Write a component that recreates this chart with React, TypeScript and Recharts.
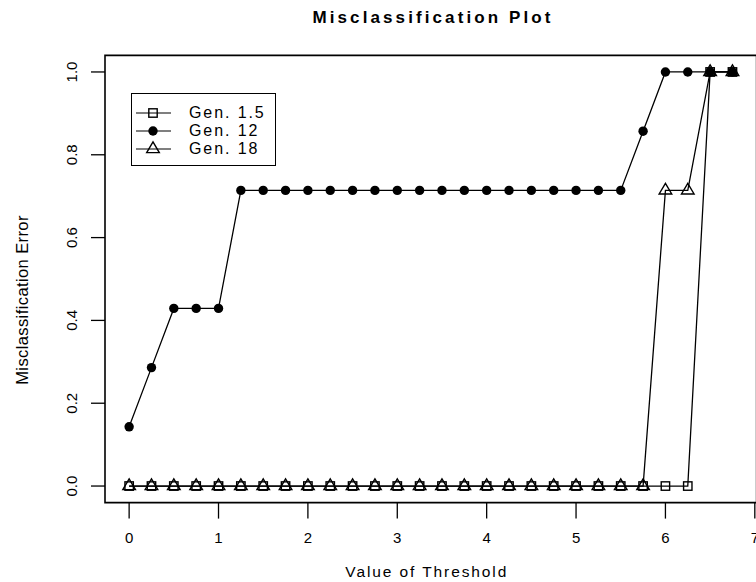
import { LineChart, Line, XAxis, YAxis, ReferenceArea, Legend } from 'recharts';

const FONT = '"Liberation Sans", Arial, Helvetica, sans-serif';

// threshold values on the x axis
const thresholds = [
  0, 0.25, 0.5, 0.75, 1, 1.25, 1.5, 1.75, 2, 2.25, 2.5, 2.75, 3, 3.25,
  3.5, 3.75, 4, 4.25, 4.5, 4.75, 5, 5.25, 5.5, 5.75, 6, 6.25, 6.5, 6.75,
];

// misclassification error per series
const gen15 = [
  0, 0, 0, 0, 0, 0, 0, 0, 0, 0, 0, 0, 0, 0,
  0, 0, 0, 0, 0, 0, 0, 0, 0, 0, 0, 0, 1, 1,
];
const gen12 = [
  0.143, 0.286, 0.429, 0.429, 0.429, 0.714, 0.714, 0.714, 0.714, 0.714, 0.714, 0.714, 0.714, 0.714,
  0.714, 0.714, 0.714, 0.714, 0.714, 0.714, 0.714, 0.714, 0.714, 0.857, 1, 1, 1, 1,
];
const gen18 = [
  0, 0, 0, 0, 0, 0, 0, 0, 0, 0, 0, 0, 0, 0,
  0, 0, 0, 0, 0, 0, 0, 0, 0, 0, 0.714, 0.714, 1, 1,
];

const xTicks = [0, 1, 2, 3, 4, 5, 6, 7];
const yTicks = [0, 0.2, 0.4, 0.6, 0.8, 1];

const seriesNames = ['Gen. 1.5', 'Gen. 12', 'Gen. 18'];

const rows = thresholds.map((t, i) => ({ t, g15: gen15[i], g12: gen12[i], g18: gen18[i] }));

// R style plotting symbols
function square(cx: number, cy: number, key: string) {
  return <rect key={key} x={cx - 4.2} y={cy - 4.2} width={8.4} height={8.4} fill="none" stroke="#000" strokeWidth={1.4} />;
}
function dot(cx: number, cy: number, key: string) {
  return <circle key={key} cx={cx} cy={cy} r={4.7} fill="#000" stroke="none" />;
}
function triangle(cx: number, cy: number, key: string) {
  const pts = `${cx},${cy - 7.1} ${cx + 6.3},${cy + 3.6} ${cx - 6.3},${cy + 3.6}`;
  return <polygon key={key} points={pts} fill="none" stroke="#000" strokeWidth={1.4} />;
}

const symbols = [square, dot, triangle];

function LegendBox() {
  return (
    <div
      style={{
        boxSizing: 'border-box',
        width: 145,
        height: 73,
        border: '1px solid #000',
        background: '#fff',
        paddingTop: 10,
        fontFamily: FONT,
      }}
    >
      {seriesNames.map((name, i) => (
        <div key={name} style={{ display: 'flex', alignItems: 'center', height: 18 }}>
          <svg width={57} height={18} style={{ display: 'block' }}>
            <line x1={4} x2={39} y1={9} y2={9} stroke="#000" strokeWidth={1.2} />
            {symbols[i](21, 9, 'l' + i)}
          </svg>
          <span style={{ fontSize: 16, letterSpacing: 1.9, lineHeight: '18px', color: '#000' }}>{name}</span>
        </div>
      ))}
    </div>
  );
}

const XTick = ({ x, y, payload }: any) => (
  <text x={x} y={y + 24.4} textAnchor="middle" fontSize={15} fontFamily={FONT} fill="#000">
    {payload.value}
  </text>
);

const YTick = ({ x, y, payload }: any) => (
  <text
    x={x - 14}
    y={y}
    transform={`rotate(-90, ${x - 14}, ${y})`}
    textAnchor="middle"
    fontSize={15}
    fontFamily={FONT}
    fill="#000"
  >
    {payload.value.toFixed(1)}
  </text>
);

const YTitle = ({ viewBox }: any) => {
  const x = viewBox.x + 28;
  const y = viewBox.y + viewBox.height / 2 + 21;
  return (
    <text
      x={x}
      y={y}
      transform={`rotate(-90, ${x}, ${y})`}
      textAnchor="middle"
      fontSize={16.5}
      fontFamily={FONT}
      letterSpacing={0.4}
      fill="#000"
    >
      Misclassification Error
    </text>
  );
};

const XTitle = ({ viewBox }: any) => {
  const x = viewBox.x + viewBox.width / 2 - 4;
  const y = viewBox.y + 74.5;
  return (
    <text x={x} y={y} textAnchor="middle" fontSize={15.5} fontFamily={FONT} letterSpacing={1.9} fill="#000">
      Value of Threshold
    </text>
  );
};

export default function App() {
  return (
    <div
      style={{
        position: 'absolute',
        left: 0,
        top: 0,
        width: 756,
        height: 582,
        overflow: 'hidden',
        background: '#fff',
        fontFamily: FONT,
      }}
    >
      <div
        style={{
          position: 'absolute',
          left: 0,
          top: 8,
          width: 866,
          textAlign: 'center',
          fontSize: 17,
          fontWeight: 'bold',
          letterSpacing: 3.1,
          lineHeight: '20px',
          color: '#000',
        }}
      >
        Misclassification Plot
      </div>
      <div style={{ position: 'absolute', left: 0, top: 0 }}>
        <LineChart width={760} height={582} data={rows} margin={{ top: 55.4, right: 3.4, bottom: 0, left: 0 }}>
          <XAxis
            dataKey="t"
            type="number"
            domain={[-0.27, 7.02]}
            allowDataOverflow
            ticks={xTicks}
            tick={<XTick />}
            tickSize={16}
            tickMargin={0}
            tickLine={{ stroke: '#000', strokeWidth: 1.3 }}
            axisLine={false}
            height={79.4}
            label={<XTitle />}
          />
          <YAxis
            type="number"
            domain={[-0.04, 1.04]}
            allowDataOverflow
            ticks={yTicks}
            tick={<YTick />}
            tickSize={14}
            tickMargin={0}
            tickLine={{ stroke: '#000', strokeWidth: 1.3 }}
            axisLine={false}
            width={105}
            label={<YTitle />}
          />
          <ReferenceArea x1={-0.27} x2={7.02} y1={-0.04} y2={1.04} fill="none" stroke="#000" strokeWidth={1.6} />
          <Legend
            layout="vertical"
            align="center"
            verticalAlign="middle"
            content={() => <LegendBox />}
            wrapperStyle={{ position: 'absolute', left: 131, top: 93, width: 145, height: 73 }}
          />
          <Line
            dataKey="g15"
            name={seriesNames[0]}
            stroke="#000"
            strokeWidth={1.3}
            dot={(p: any) => square(p.cx, p.cy, 'a' + p.index)}
            activeDot={false}
            isAnimationActive={false}
          />
          <Line
            dataKey="g12"
            name={seriesNames[1]}
            stroke="#000"
            strokeWidth={1.3}
            dot={(p: any) => dot(p.cx, p.cy, 'b' + p.index)}
            activeDot={false}
            isAnimationActive={false}
          />
          <Line
            dataKey="g18"
            name={seriesNames[2]}
            stroke="#000"
            strokeWidth={1.3}
            dot={(p: any) => triangle(p.cx, p.cy, 'c' + p.index)}
            activeDot={false}
            isAnimationActive={false}
          />
        </LineChart>
      </div>
    </div>
  );
}
